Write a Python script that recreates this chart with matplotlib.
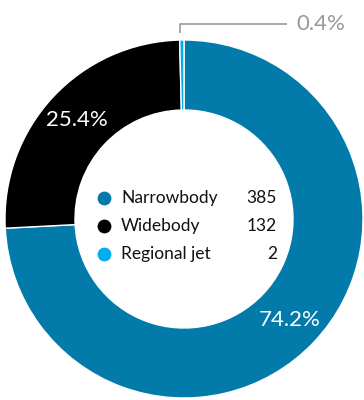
import matplotlib.pyplot as plt
import numpy as np

categories = ["Narrowbody", "Widebody", "Regional jet"]
counts = [385, 132, 2]
colors = ["#027bab", "#000000", "#00aeef"]

W, H = 364, 400
cx, cy = 184, 181
R = 179
ring = 70

plt.rcParams["font.family"] = ["Lato", "DejaVu Sans"]

fig = plt.figure(figsize=(W / 100, H / 100), dpi=100)
ax = fig.add_axes([0, 0, 1, 1])

wedges, _ = ax.pie(counts, colors=colors, startangle=90, counterclock=False,
                   radius=R, center=(cx, cy), frame=True,
                   wedgeprops=dict(width=ring, edgecolor="white", linewidth=1))
ax.set_xlim(0, W)
ax.set_ylim(0, H)
ax.set_aspect("equal")
ax.axis("off")

total = sum(counts)
pcts = [c / total * 100 for c in counts]

# percentage labels inside the two big wedges
label_r = R - ring / 2 + 2
for w, p in zip(wedges[:2], pcts[:2]):
    mid = np.deg2rad((w.theta1 + w.theta2) / 2)
    ax.text(cx + label_r * np.cos(mid), cy + label_r * np.sin(mid), f"{p:.1f}%",
            color="white", fontsize=16, ha="center", va="center")

# small wedge gets a leader line above the ring
w = wedges[2]
mid = np.deg2rad((w.theta1 + w.theta2) / 2)
x0 = cx + R * np.cos(mid) - 2
ax.plot([x0, x0, 287], [H - 33, H - 24, H - 24], color="#999999", lw=1.2,
        solid_capstyle="butt")
ax.text(296, H - 24, f"{pcts[2]:.1f}%", color="#999999", fontsize=16,
        ha="left", va="center")

# legend in the hole
for i, (name, c, col) in enumerate(zip(categories, counts, colors)):
    y = H - 198 - 28 * i
    ax.scatter([104], [y], s=80, color=col, zorder=3)
    ax.text(121, y, name, fontsize=12.5, color="#111111", ha="left", va="center")
    ax.text(277, y, str(c), fontsize=12.5, color="#111111", ha="right", va="center")

fig.savefig("out.png", dpi=100)
